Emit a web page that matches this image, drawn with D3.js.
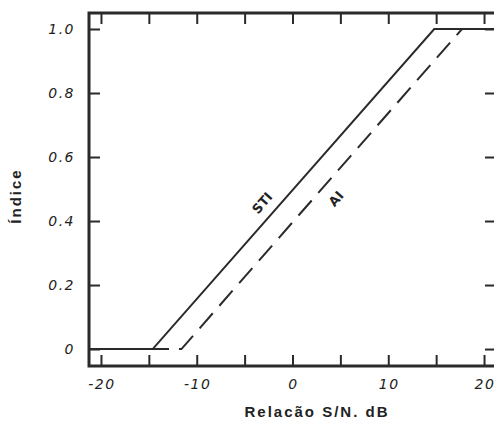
<!DOCTYPE html>
<html lang="pt">
<head>
    <meta charset="UTF-8">
    <title>STI e AI vs relação S/N</title>
    <script src="https://cdn.jsdelivr.net/npm/d3@7"></script>
    <style>
        body { margin: 0; background: #fff; }
    </style>
</head>
<body>
<script type="application/javascript">

    let w = 494, h = 421;

    // dados
    let stiX = [-21.25, -14.6, 14.8, 21.25];
    let stiY = [0, 0, 1, 1];
    let aiX = [-21.25, -11.6, 17.7, 21.25];
    let aiY = [0, 0, 1, 1];
    let xTicks = [-20, -15, -10, -5, 0, 5, 10, 15, 20];
    let xLabels = ['-20', '', '-10', '', '0', '', '10', '', '20'];
    let yTicks = [0, 0.2, 0.4, 0.6, 0.8, 1.0];
    let yLabels = ['0', '0.2', '0.4', '0.6', '0.8', '1.0'];

    let pLeft = 89, pTop = 13, pRight = 496, pBottom = 366;

    let x = d3.scaleLinear().domain([-21.25, 21.25]).range([pLeft, pRight]);
    let y = d3.scaleLinear().domain([-0.053, 1.05]).range([pBottom, pTop]);

    let svg = d3.select('body')
        .append('svg')
        .attr('width', w)
        .attr('height', h)
        .style('display', 'block');

    svg.append('defs').append('clipPath')
        .attr('id', 'plot')
        .append('rect')
        .attr('x', pLeft).attr('y', pTop)
        .attr('width', pRight - pLeft).attr('height', pBottom - pTop);

    let line = d3.line()
        .x(d => x(d[0]))
        .y(d => y(d[1]));

    let g = svg.append('g').attr('clip-path', 'url(#plot)');

    g.append('path')
        .datum(aiX.map((v, i) => [v, aiY[i]]))
        .attr('d', line)
        .attr('fill', 'none')
        .attr('stroke', '#2a2a2a')
        .attr('stroke-width', 2)
        .attr('stroke-dasharray', '20,10');

    g.append('path')
        .datum(stiX.map((v, i) => [v, stiY[i]]))
        .attr('d', line)
        .attr('fill', 'none')
        .attr('stroke', '#2a2a2a')
        .attr('stroke-width', 2);

    // ticks para dentro, nos quatro lados
    let tickLen = 11;
    let axisColor = '#2a2a2a';

    svg.append('g').attr('transform', 'translate(0,' + pBottom + ')')
        .call(d3.axisTop(x).tickValues(xTicks).tickSize(tickLen).tickFormat(''))
        .call(a => a.select('.domain').remove());
    svg.append('g').attr('transform', 'translate(0,' + pTop + ')')
        .call(d3.axisBottom(x).tickValues(xTicks).tickSize(tickLen).tickFormat(''))
        .call(a => a.select('.domain').remove());
    svg.append('g').attr('transform', 'translate(' + pLeft + ',0)')
        .call(d3.axisRight(y).tickValues(yTicks).tickSize(tickLen).tickFormat(''))
        .call(a => a.select('.domain').remove());
    svg.append('g').attr('transform', 'translate(' + pRight + ',0)')
        .call(d3.axisLeft(y).tickValues(yTicks).tickSize(tickLen).tickFormat(''))
        .call(a => a.select('.domain').remove());

    svg.selectAll('.tick line')
        .attr('stroke', axisColor)
        .attr('stroke-width', 2);

    svg.append('rect')
        .attr('x', pLeft).attr('y', pTop)
        .attr('width', pRight - pLeft).attr('height', pBottom - pTop)
        .attr('fill', 'none')
        .attr('stroke', axisColor)
        .attr('stroke-width', 3);

    // rótulos dos ticks
    let tickFont = '"DejaVu Sans", sans-serif';

    svg.selectAll('text.xl')
        .data(xTicks)
        .enter()
        .append('text')
        .attr('class', 'xl')
        .attr('x', d => x(d) + 1)
        .attr('y', 389)
        .attr('text-anchor', 'middle')
        .attr('font-family', tickFont)
        .attr('font-style', 'italic')
        .attr('font-size', 14)
        .attr('letter-spacing', 1.5)
        .attr('fill', '#222')
        .text((d, i) => xLabels[i]);

    svg.selectAll('text.yl')
        .data(yTicks)
        .enter()
        .append('text')
        .attr('class', 'yl')
        .attr('x', 75)
        .attr('y', d => y(d) + 5)
        .attr('text-anchor', 'end')
        .attr('font-family', tickFont)
        .attr('font-style', 'italic')
        .attr('font-size', 14)
        .attr('letter-spacing', 1.5)
        .attr('fill', '#222')
        .text((d, i) => yLabels[i]);

    // títulos dos eixos
    svg.append('text')
        .attr('x', 317)
        .attr('y', 417)
        .attr('text-anchor', 'middle')
        .attr('font-family', '"Liberation Sans", Arial, sans-serif')
        .attr('font-weight', 'bold')
        .attr('font-size', 15)
        .attr('letter-spacing', 2)
        .attr('fill', '#222')
        .text('Relacão S/N. dB');

    svg.append('text')
        .attr('transform', 'translate(21,196) rotate(-90)')
        .attr('text-anchor', 'middle')
        .attr('font-family', '"Liberation Sans", Arial, sans-serif')
        .attr('font-weight', 'bold')
        .attr('font-size', 15)
        .attr('letter-spacing', 2)
        .attr('fill', '#222')
        .text('Índice');

    // rótulos das curvas
    let angle = -Math.atan((y(0) - y(1)) / (x(14.8) - x(-14.6))) * 180 / Math.PI;

    svg.append('text')
        .attr('transform', 'translate(' + x(-2.8) + ',' + y(0.447) + ') rotate(' + angle + ')')
        .attr('text-anchor', 'middle')
        .attr('font-family', tickFont)
        .attr('font-weight', 'bold')
        .attr('font-size', 13)
        .attr('fill', '#222')
        .text('STI');

    svg.append('text')
        .attr('transform', 'translate(' + x(4.9) + ',' + y(0.46) + ') rotate(' + angle + ')')
        .attr('text-anchor', 'middle')
        .attr('font-family', tickFont)
        .attr('font-weight', 'bold')
        .attr('font-size', 13)
        .attr('fill', '#222')
        .text('AI');

</script>
</body>
</html>
